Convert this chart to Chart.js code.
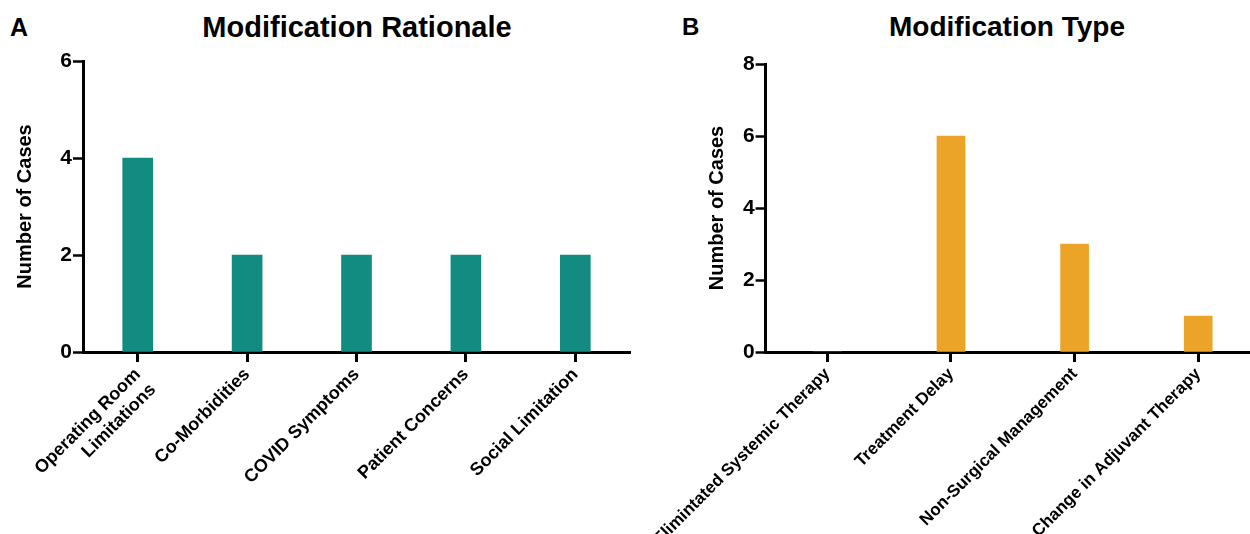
<!DOCTYPE html>
<html>
<head>
<meta charset="utf-8">
<script src="https://cdn.jsdelivr.net/npm/chart.js@4/dist/chart.umd.min.js"></script>
<style>
  html, body { margin: 0; padding: 0; width: 1250px; height: 534px; overflow: hidden; background: #fff; }
  .lbl { position: absolute; font-family: "Liberation Sans", Arial, sans-serif; font-weight: bold; color: #000; white-space: nowrap; line-height: 1; }
  canvas { position: absolute; top: 0; }
</style>
</head>
<body>
<div class="lbl" id="letterA" style="left:10px; top:15px; font-size:25px;">A</div>
<div class="lbl" id="titleA" style="left:357px; top:13px; font-size:29px; transform:translateX(-50%);">Modification Rationale</div>
<div class="lbl" id="letterB" style="left:682px; top:15px; font-size:24px;">B</div>
<div class="lbl" id="titleB" style="left:1007px; top:13px; font-size:28px; transform:translateX(-50%);">Modification Type</div>
<canvas id="chartA" width="640" height="534" style="left:0px;"></canvas>
<canvas id="chartB" width="630" height="534" style="left:640px;"></canvas>
<script>
// ---- Data ----
const rationaleCategories = [["Operating Room", "Limitations"], "Co-Morbidities", "COVID Symptoms", "Patient Concerns", "Social Limitation"];
const rationaleCases = [4, 2, 2, 2, 2];
const rationaleTicks = [0, 2, 4, 6];

const typeCategories = ["Elimintated Systemic Therapy", "Treatment Delay", "Non-Surgical Management", "Change in Adjuvant Therapy"];
const typeCases = [0, 6, 3, 1];
const typeTicks = [0, 2, 4, 6, 8];

const yTitle = "Number of Cases";

// ---- Styling ----
const FONT = "'Liberation Sans', Arial, sans-serif";
const teal = "#128B81";
const orange = "#EBA427";

function makeChart(id, cats, vals, ticks, color, opts) {
  const ctx = document.getElementById(id);
  return new Chart(ctx, {
    type: 'bar',
    data: {
      labels: cats,
      datasets: [{ data: vals, backgroundColor: color, borderWidth: 0, barThickness: opts.barThickness }]
    },
    options: {
      responsive: false,
      animation: false,
      devicePixelRatio: 1,
      layout: { padding: { top: opts.top, right: opts.right, bottom: 0, left: 0 } },
      plugins: { legend: { display: false }, tooltip: { enabled: false }, title: { display: false } },
      scales: {
        x: {
          type: 'category',
          offset: true,
          grid: { display: true, offset: false, drawOnChartArea: false, drawTicks: true, tickLength: 10, tickWidth: 3, tickColor: '#000' },
          border: { display: true, color: '#000', width: 3 },
          ticks: {
            autoSkip: false, maxRotation: 45, minRotation: 45, padding: 2,
            color: '#000', font: { family: FONT, size: opts.xFont, weight: 'bold' }
          },
          afterFit: (s) => { s.height = 534 - opts.bottomY; }
        },
        y: {
          min: 0, max: ticks[ticks.length - 1],
          afterBuildTicks: (s) => { s.ticks = ticks.map(v => ({ value: v })); },
          grid: { display: true, drawOnChartArea: false, drawTicks: true, tickLength: 10, tickWidth: 2.5, tickColor: '#000' },
          border: { display: true, color: '#000', width: 3 },
          ticks: { padding: 1, color: '#000', font: { family: FONT, size: 21, weight: 'bold' } },
          title: {
            display: true, text: yTitle, color: '#000',
            font: { family: FONT, size: 20, weight: 'bold' },
            padding: { top: opts.titlePad, bottom: 0 }
          },
          afterFit: (s) => { s.width = opts.axisX; }
        }
      }
    }
  });
}

makeChart('chartA', rationaleCategories, rationaleCases, rationaleTicks, teal,
  { top: 61, right: 10, bottomY: 352, axisX: 83, titlePad: 13, barThickness: 30, xFont: 18 });
makeChart('chartB', typeCategories, typeCases, typeTicks, orange,
  { top: 64, right: 10, bottomY: 352, axisX: 115, titlePad: 55, barThickness: 28, xFont: 17 });
</script>
</body>
</html>
